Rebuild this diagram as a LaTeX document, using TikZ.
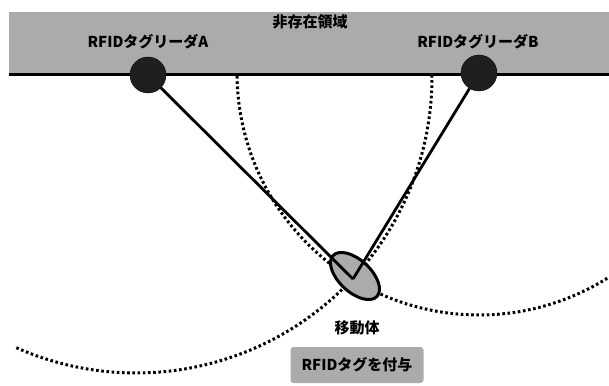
\documentclass[tikz,border=0pt]{standalone}
\usepackage{fontspec}
\newfontfamily\jp{Noto Sans CJK JP}
\usetikzlibrary{shapes.geometric}
\begin{document}
\begin{tikzpicture}[x=1pt,y=-1pt,
  lbl/.style={font=\jp\bfseries\fontsize{15}{17}\selectfont, inner sep=0pt},
  reader/.style={circle, fill=black!88, draw=black, minimum size=36pt, inner sep=0pt},
  link/.style={line width=2.8pt},
  dots/.style={line width=3pt, dash pattern=on 2.6pt off 2.6pt},
  halftone/.style={fill=black!33},
]
\useasboundingbox (0,0) rectangle (609,385);
% non-existence area
\fill[halftone] (9,12) rectangle (609,75);
\draw[line width=3pt] (9,75) -- (609,75);
% distance arcs
\draw[dots] plot[domain=58:179.5, samples=120] ({479+242*cos(\x)},{73+242*sin(\x)});
\draw[dots] plot[domain=-0.4:114, samples=120] ({136+296*cos(\x)},{77+296*sin(\x)});
% readers
\node[reader] (ra) at (148,75) {};
\node[reader] (rb) at (479,73) {};
% tag on moving body
\node[ellipse, draw, line width=3pt, halftone, minimum width=60pt, minimum height=32pt, rotate=-43] (tag) at (355,276) {};
\coordinate (p) at (353,279);
\draw[link] (ra) -- (p);
\draw[link] (rb) -- (p);
% labels
\node[lbl] (area) at (310,22) {非存在領域};
\node[lbl] (la) at (148,42) {RFIDタグリーダA};
\node[lbl] (lb) at (478,42) {RFIDタグリーダB};
\node[lbl] (mv) at (357,328) {移動体};
\node[lbl, halftone, rounded corners=3pt, minimum width=133pt, minimum height=36pt] (tg) at (357,365) {RFIDタグを付与};
\end{tikzpicture}
\end{document}
